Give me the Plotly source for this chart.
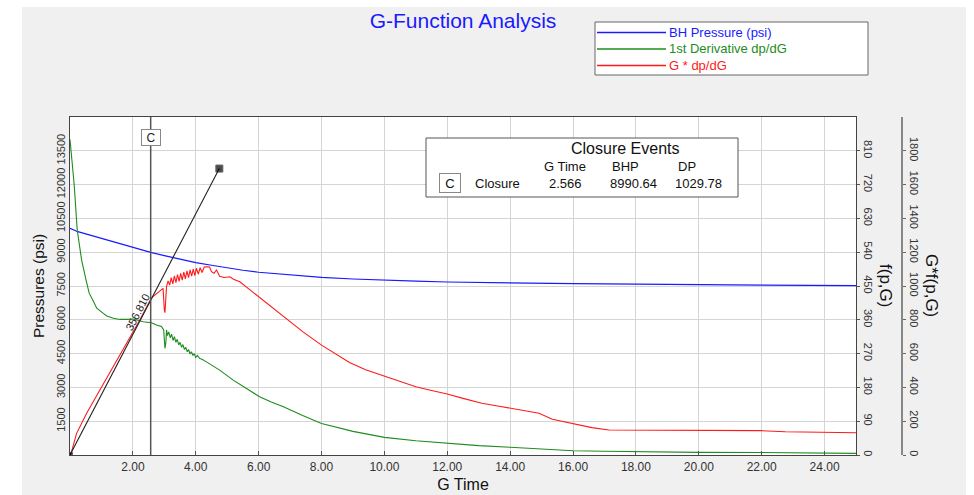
import plotly.graph_objects as go

# ---------------- data ----------------
# BH pressure (psi) vs G time (left axis)
g_pressure = [0.0, 0.1, 0.25, 0.5, 1.0, 1.5, 2.0, 2.566, 3.0, 3.5, 4.0, 4.5, 5.0, 5.5, 6.0, 7.0,
              8.0, 9.0, 10.0, 11.0, 12.0, 13.0, 14.0, 15.0, 16.0, 17.0, 18.0, 19.0, 20.0, 21.0,
              22.0, 23.0, 24.0, 25.0]
bh_pressure = [10060, 9990, 9910, 9810, 9610, 9415, 9220, 8990, 8850, 8690, 8540, 8420, 8300, 8200,
               8110, 7990, 7886, 7810, 7753, 7712, 7678, 7653, 7633, 7618, 7605, 7592, 7580, 7572,
               7565, 7558, 7550, 7535, 7520, 7514]

# 1st derivative dp/dG (f(p,G) axis)
g_deriv = [0.0, 0.05, 0.13, 0.23, 0.37, 0.51, 0.61, 0.74, 0.85, 1.06, 1.17, 1.38, 1.59, 1.8, 2.01,
           2.33, 2.59, 2.75, 2.91, 2.98, 3.0, 3.02, 3.05, 3.07, 3.10, 3.14, 3.19, 3.23, 3.28, 3.32,
           3.37, 3.41, 3.46, 3.50, 3.55, 3.59, 3.64, 3.68, 3.73, 3.77, 3.82, 3.86, 3.91, 3.95, 4.0,
           4.05, 4.13, 4.2, 4.3, 4.4, 4.55, 4.76, 5.18, 5.6, 6.03, 6.4, 6.77, 7.4, 8.0, 9.0, 10.0,
           11.0, 12.0, 13.0, 14.0, 15.0, 16.0, 17.0, 18.0, 19.0, 20.0, 22.0, 24.0, 24.4, 24.5, 25.0]
deriv = [840, 800, 723, 599, 519, 466, 431, 410, 391, 377, 370, 364, 361, 361, 362,
         355, 352, 346, 342, 333, 300, 284, 300, 333, 318, 328, 312, 322, 305, 315,
         300, 308, 293, 300, 287, 294, 281, 287, 275, 281, 269, 275, 265, 270, 260,
         265, 257, 255, 250, 245, 237, 226, 200, 178, 155, 141, 129, 105, 84, 63, 47,
         38, 31, 25, 20.5, 16, 11.5, 10, 8.9, 8, 7.1, 6.6, 6.2, 6.2, 4.4, 4.4]

# G * dp/dG (G*f(p,G) axis)
g_gdpdg = [0.0, 0.05, 0.21, 0.53, 0.95, 1.38, 1.8, 2.22, 2.59, 2.96, 2.98, 3.0, 3.02, 3.05, 3.07,
           3.12, 3.17, 3.22, 3.27, 3.32, 3.37, 3.42, 3.47, 3.52, 3.57, 3.62, 3.67, 3.72, 3.77,
           3.82, 3.87, 3.92, 3.97, 4.02, 4.08, 4.14, 4.2, 4.27, 4.34, 4.44, 4.5, 4.58, 4.66, 4.76,
           4.9, 5.08, 5.2, 5.4, 5.6, 5.8, 6.03, 6.4, 6.88, 7.4, 8.0, 8.5, 8.89, 9.4, 10.0, 10.5,
           11.0, 11.5, 12.0, 12.5, 13.1, 13.6, 14.0, 14.5, 14.92, 15.34, 16.0, 16.6, 17.14, 18.0,
           20.0, 21.96, 22.75, 24.0, 24.9, 25.0]
gdpdg = [0, 20, 128, 247, 385, 522, 661, 799, 930, 986, 900, 858, 842, 920, 996,
         1030, 1005, 1050, 1012, 1060, 1020, 1068, 1028, 1075, 1035, 1082, 1042, 1090, 1050,
         1095, 1058, 1100, 1062, 1105, 1070, 1108, 1080, 1112, 1114, 1112, 1085, 1075, 1095, 1058,
         1050, 1055, 1040, 1025, 996, 965, 930, 880, 805, 730, 650, 595, 548, 505, 467, 435,
         404, 382, 361, 335, 306, 290, 276, 262, 247, 211, 183, 162, 148, 148,
         148, 144, 138, 134, 132, 132]

# tangent line (on G*f axis)
tangent_slope = 356.810
tangent_g = [0.0, 4.75]

# closure event
closure_g = 2.566
closure_bhp = 8990.64
closure_dp = 1029.78

# tick labels
x_ticks = [2, 4, 6, 8, 10, 12, 14, 16, 18, 20, 22, 24]
x_ticktext = ["2.00", "4.00", "6.00", "8.00", "10.00", "12.00", "14.00", "16.00", "18.00",
              "20.00", "22.00", "24.00"]
p_ticks = [1500, 3000, 4500, 6000, 7500, 9000, 10500, 12000, 13500]
p_ticktext = ["1500", "3000", "4500", "6000", "7500", "9000", "10500", "12000", "13500"]
f_ticks = [0, 90, 180, 270, 360, 450, 540, 630, 720, 810]
gf_ticks = [0, 200, 400, 600, 800, 1000, 1200, 1400, 1600, 1800]

# ---------------- layout helpers ----------------
W, H = 974, 495
FONT = "Liberation Sans, Arial, sans-serif"
BLUE = "#1a1aff"
GREEN = "#1e8c1e"
RED = "#ff1a1a"
TXT = "#333333"


def px(x):
    return x / W


def py(y):
    return 1 - y / H


def text_ann(x, y, text, size=13, color="#111", **kw):
    d = dict(x=px(x), y=py(y), xref="paper", yref="paper", text=text, showarrow=False,
             xanchor="center", yanchor="middle", font=dict(family=FONT, size=size, color=color))
    d.update(kw)
    return d


x_dom = [px(70), px(856)]
y_dom = [py(455), py(117)]

fig = go.Figure()

fig.add_trace(go.Scatter(x=g_pressure, y=bh_pressure, mode="lines", name="BH Pressure (psi)",
                         line=dict(color=BLUE, width=1.2), yaxis="y", showlegend=False))
fig.add_trace(go.Scatter(x=g_deriv, y=deriv, mode="lines", name="1st Derivative dp/dG",
                         line=dict(color=GREEN, width=1.1), yaxis="y2", showlegend=False))
fig.add_trace(go.Scatter(x=g_gdpdg, y=gdpdg, mode="lines", name="G * dp/dG",
                         line=dict(color=RED, width=1.1), yaxis="y3", showlegend=False))
fig.add_trace(go.Scatter(x=tangent_g, y=[tangent_slope * g for g in tangent_g], mode="lines+markers",
                         line=dict(color="#222222", width=1.1),
                         marker=dict(symbol="square", size=[5, 7], color="black"),
                         yaxis="y3", showlegend=False))

shapes = []
annotations = []

# white strips around the gray panel
for (x0, y0, x1, y1) in [(0, 0, W, 7), (0, 0, 22, H), (966, 0, W, H)]:
    shapes.append(dict(type="rect", xref="paper", yref="paper", x0=px(x0), x1=px(x1),
                       y0=py(y1), y1=py(y0), fillcolor="white", line=dict(width=0), layer="below"))

# closure vertical line
shapes.append(dict(type="line", xref="x", yref="paper", x0=closure_g, x1=closure_g,
                   y0=y_dom[0], y1=y_dom[1], line=dict(color="#555555", width=1.5)))
annotations.append(dict(x=closure_g, xref="x", y=py(137), yref="paper", text="C", showarrow=False,
                        xanchor="center", yanchor="middle",
                        font=dict(family=FONT, size=12, color="#222"), bgcolor="white",
                        bordercolor="#888888", borderwidth=1, borderpad=1, width=16, height=13))

# tangent slope label
label_g = 2.33
annotations.append(dict(x=label_g, xref="x", y=tangent_slope * label_g, yref="y3",
                        text=f"{tangent_slope:.3f}", showarrow=False, textangle=-62.6,
                        xanchor="center", yanchor="middle",
                        xshift=-6, yshift=3, font=dict(family=FONT, size=11, color="#222")))

# legend box (manual)
shapes.append(dict(type="rect", xref="paper", yref="paper", x0=px(595), x1=px(868),
                   y0=py(75), y1=py(22), fillcolor="white", line=dict(color="#666666", width=1)))
legend_items = [("BH Pressure (psi)", BLUE, 32.5), ("1st Derivative dp/dG", GREEN, 49),
                ("G * dp/dG", RED, 65.5)]
for name, col, yy in legend_items:
    shapes.append(dict(type="line", xref="paper", yref="paper", x0=px(597), x1=px(666),
                       y0=py(yy), y1=py(yy), line=dict(color=col, width=1.3)))
    annotations.append(text_ann(667, yy, name, size=13, color=col, xanchor="left"))

# closure events box
shapes.append(dict(type="rect", xref="paper", yref="paper", x0=px(426), x1=px(738),
                   y0=py(197), y1=py(138), fillcolor="white", line=dict(color="#555555", width=1)))
annotations.append(text_ann(625, 148.5, "Closure Events", size=16))
for txt, xx in [("G Time", 565), ("BHP", 625), ("DP", 687)]:
    annotations.append(text_ann(xx, 166.5, txt, size=13))
row_vals = [("Closure", 497), (f"{closure_g:.3f}", 565), (f"{closure_bhp:.2f}", 633),
            (f"{closure_dp:.2f}", 698)]
for txt, xx in row_vals:
    annotations.append(text_ann(xx, 183.5, txt, size=13))
annotations.append(text_ann(450, 183, "C", size=13, bgcolor="white", bordercolor="#888888",
                            borderwidth=1, width=18, height=16))

# right axis titles (rotated to read top-to-bottom)
annotations.append(text_ann(886, 285, "f(p,G)", size=17, textangle=90))
annotations.append(text_ann(932, 285, "G*f(p,G)", size=17, textangle=90))

grid = "#d4d4d4"
tickfont = dict(family=FONT, size=12, color=TXT)
ytickfont = dict(family=FONT, size=11, color=TXT)

fig.update_layout(
    width=W, height=H,
    margin=dict(l=0, r=0, t=0, b=0),
    paper_bgcolor="#f0f0f0",
    plot_bgcolor="white",
    title=dict(text="G-Function Analysis", x=px(463), xanchor="center", y=py(21), yanchor="middle",
               font=dict(family=FONT, size=21, color=BLUE)),
    xaxis=dict(domain=x_dom, range=[0, 25], tickvals=x_ticks, ticktext=x_ticktext,
               showgrid=True, gridcolor=grid, gridwidth=1, zeroline=False,
               showline=True, linecolor="#444444", linewidth=1.2, mirror=True,
               ticks="inside", ticklen=4, tickcolor="#555555", tickfont=tickfont,
               title=dict(text="G Time", font=dict(family=FONT, size=16, color="#111"), standoff=6)),
    yaxis=dict(domain=y_dom, range=[0, 15000], tickvals=p_ticks, ticktext=p_ticktext, tickangle=-90,
               showgrid=True, gridcolor=grid, gridwidth=1, zeroline=False,
               showline=True, linecolor="#444444", linewidth=1.2, mirror=True, ticks="",
               tickfont=ytickfont,
               title=dict(text="Pressures (psi)", font=dict(family=FONT, size=15.5, color="#111"),
                          standoff=6)),
    yaxis2=dict(overlaying="y", side="right", anchor="x", range=[0, 900], tickvals=f_ticks,
                tickangle=90, showgrid=False, zeroline=False, showline=False,
                ticks="outside", ticklen=3, tickcolor="#555555", tickfont=ytickfont),
    yaxis3=dict(overlaying="y", side="right", anchor="free", position=px(902), range=[0, 2000],
                tickvals=gf_ticks, tickangle=90, showgrid=False, zeroline=False,
                showline=True, linecolor="#888888", linewidth=2,
                ticks="outside", ticklen=3, tickcolor="#666666", tickfont=ytickfont),
    shapes=shapes,
    annotations=annotations,
)

fig.write_html("out.html")
